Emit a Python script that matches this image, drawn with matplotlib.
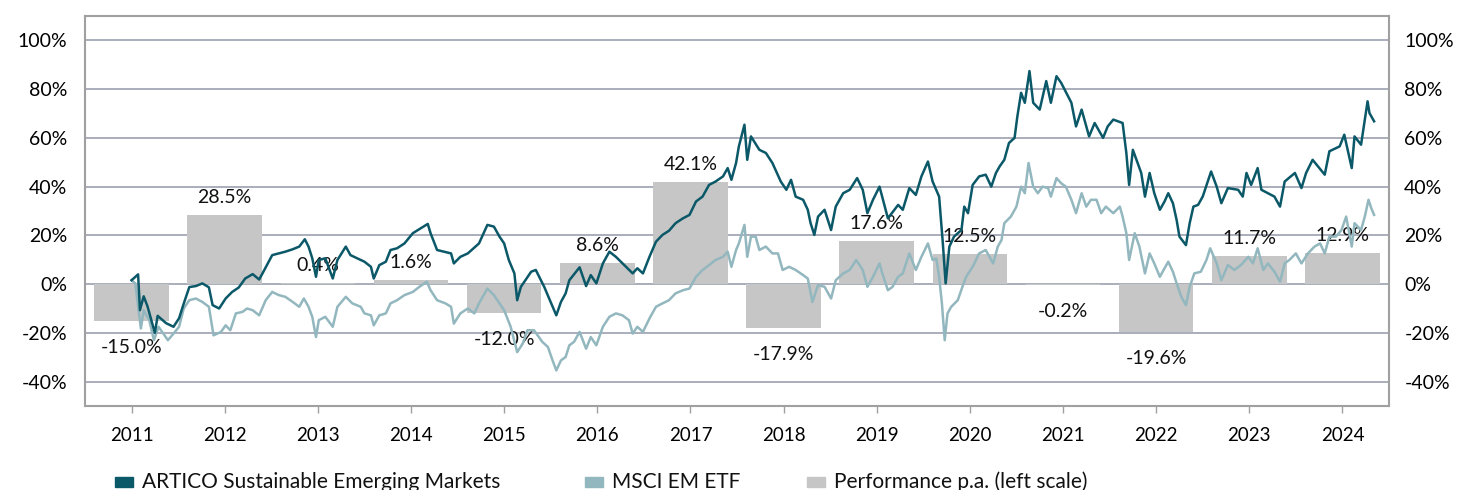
import matplotlib
matplotlib.use("Agg")
import matplotlib.pyplot as plt
from matplotlib.patches import Rectangle

plt.rcParams['font.family'] = ['Lato', 'DejaVu Sans']

years = ['2011', '2012', '2013', '2014', '2015', '2016', '2017',
         '2018', '2019', '2020', '2021', '2022', '2023', '2024']
perf = [-15.0, 28.5, 0.4, 1.6, -12.0, 8.6, 42.1, -17.9, 17.6, 12.5, -0.2, -19.6, 11.7, 12.9]

artico_t = [2011.00, 2011.07, 2011.09, 2011.13, 2011.17, 2011.25, 2011.28, 2011.37, 2011.45, 2011.51,
            2011.56, 2011.62, 2011.69, 2011.76, 2011.83, 2011.87, 2011.94, 2012.01, 2012.08, 2012.15,
            2012.22, 2012.30, 2012.37, 2012.40, 2012.51, 2012.58, 2012.65, 2012.73, 2012.80, 2012.86,
            2012.90, 2012.94, 2012.98, 2013.01, 2013.08, 2013.16, 2013.21, 2013.30, 2013.35, 2013.50,
            2013.57, 2013.60, 2013.66, 2013.73, 2013.78, 2013.85, 2013.93, 2014.02, 2014.18, 2014.21,
            2014.28, 2014.43, 2014.46, 2014.53, 2014.61, 2014.73, 2014.82, 2014.89, 2014.95, 2015.00,
            2015.05, 2015.11, 2015.14, 2015.18, 2015.29, 2015.34, 2015.39, 2015.43, 2015.56, 2015.61,
            2015.66, 2015.70, 2015.81, 2015.88, 2015.93, 2015.99, 2016.06, 2016.13, 2016.20, 2016.38,
            2016.43, 2016.49, 2016.56, 2016.63, 2016.70, 2016.77, 2016.84, 2016.92, 2016.99, 2017.06,
            2017.13, 2017.20, 2017.27, 2017.35, 2017.40, 2017.44, 2017.49, 2017.52, 2017.58, 2017.61,
            2017.65, 2017.74, 2017.81, 2017.88, 2017.97, 2018.03, 2018.08, 2018.13, 2018.21, 2018.26,
            2018.29, 2018.33, 2018.37, 2018.44, 2018.51, 2018.56, 2018.64, 2018.71, 2018.79, 2018.85,
            2018.90, 2018.96, 2019.03, 2019.12, 2019.23, 2019.28, 2019.35, 2019.42, 2019.48, 2019.55,
            2019.60, 2019.67, 2019.71, 2019.74, 2019.78, 2019.83, 2019.91, 2019.94, 2019.98, 2020.03,
            2020.10, 2020.17, 2020.23, 2020.28, 2020.32, 2020.37, 2020.42, 2020.48, 2020.51, 2020.55,
            2020.59, 2020.64, 2020.68, 2020.75, 2020.82, 2020.87, 2020.93, 2020.98, 2021.09, 2021.14,
            2021.20, 2021.25, 2021.28, 2021.34, 2021.43, 2021.48, 2021.54, 2021.64, 2021.68, 2021.71,
            2021.75, 2021.84, 2021.88, 2021.93, 2021.98, 2022.04, 2022.09, 2022.13, 2022.18, 2022.22,
            2022.25, 2022.32, 2022.36, 2022.40, 2022.45, 2022.50, 2022.56, 2022.59, 2022.65, 2022.70,
            2022.77, 2022.88, 2022.93, 2022.97, 2023.02, 2023.09, 2023.13, 2023.27, 2023.33, 2023.38,
            2023.49, 2023.56, 2023.61, 2023.68, 2023.81, 2023.86, 2023.97, 2024.02, 2024.10, 2024.13,
            2024.20, 2024.23, 2024.27, 2024.29, 2024.34]
artico_v = [1.6, 4.0, -10.7, -5.0, -9.0, -20.0, -13.0, -16.0, -17.5, -14.0,
            -8.0, -1.2, -0.8, 0.3, -1.3, -8.6, -10.0, -5.9, -3.2, -1.4,
            2.3, 4.1, 1.9, 4.0, 11.9, 12.6, 13.3, 14.3, 15.4, 18.4,
            15.4, 10.6, 3.0, 9.9, 10.6, 2.3, 9.9, 15.4, 11.9, 9.2,
            7.1, 2.3, 7.8, 9.2, 14.0, 14.7, 16.7, 20.9, 24.7, 20.9,
            14.0, 12.6, 8.5, 11.2, 12.6, 16.7, 24.3, 23.6, 19.5, 16.7,
            9.9, 4.4, -6.6, -1.1, 5.1, 5.8, 2.0, -1.1, -12.8, -7.3,
            -3.8, 1.6, 6.9, -0.8, 3.7, 0.3, 8.5, 13.3, 11.2, 4.4,
            6.5, 4.4, 11.2, 17.4, 20.2, 21.9, 25.0, 27.0, 28.4, 33.9,
            35.9, 40.7, 42.1, 44.2, 47.6, 42.8, 49.7, 56.5, 65.4, 51.0,
            60.6, 55.1, 53.8, 49.7, 42.1, 38.7, 42.8, 35.9, 34.6, 30.5,
            25.0, 20.2, 27.7, 30.5, 22.2, 31.8, 37.3, 38.7, 43.5, 38.7,
            29.1, 34.6, 40.0, 27.0, 32.5, 30.5, 39.4, 36.6, 44.2, 50.3,
            42.1, 35.9, 16.7, 0.3, 15.4, 19.5, 22.2, 31.8, 29.1, 40.7,
            44.2, 44.9, 40.0, 45.6, 48.3, 51.0, 57.9, 60.0, 68.8, 78.5,
            74.4, 87.4, 74.4, 71.6, 83.3, 74.4, 85.3, 82.6, 74.4, 64.7,
            71.6, 64.7, 60.6, 66.1, 60.0, 64.7, 67.5, 66.1, 53.8, 40.7,
            55.1, 45.6, 35.9, 45.6, 37.3, 30.5, 33.9, 37.3, 33.2, 26.3,
            19.5, 16.0, 25.0, 31.8, 32.5, 35.9, 42.8, 46.2, 40.0, 33.2,
            39.4, 38.7, 35.9, 45.6, 40.7, 47.6, 38.7, 35.9, 31.8, 42.1,
            45.6, 39.4, 45.6, 51.0, 44.9, 54.5, 56.5, 61.3, 47.6, 60.6,
            57.2, 64.7, 75.0, 70.2, 66.8]

msci_t = [2011.00, 2011.04, 2011.10, 2011.13, 2011.19, 2011.24, 2011.29, 2011.39, 2011.45, 2011.51,
          2011.56, 2011.62, 2011.69, 2011.76, 2011.83, 2011.88, 2011.96, 2012.01, 2012.06, 2012.12,
          2012.19, 2012.24, 2012.30, 2012.37, 2012.44, 2012.51, 2012.58, 2012.65, 2012.73, 2012.80,
          2012.85, 2012.90, 2012.94, 2012.98, 2013.01, 2013.08, 2013.16, 2013.21, 2013.30, 2013.37,
          2013.46, 2013.50, 2013.57, 2013.60, 2013.66, 2013.73, 2013.78, 2013.85, 2013.93, 2014.02,
          2014.09, 2014.17, 2014.21, 2014.28, 2014.37, 2014.43, 2014.46, 2014.53, 2014.61, 2014.68,
          2014.73, 2014.82, 2014.89, 2014.95, 2015.00, 2015.07, 2015.14, 2015.20, 2015.25, 2015.32,
          2015.41, 2015.47, 2015.52, 2015.56, 2015.61, 2015.66, 2015.70, 2015.75, 2015.81, 2015.88,
          2015.93, 2015.99, 2016.06, 2016.13, 2016.20, 2016.27, 2016.34, 2016.38, 2016.43, 2016.49,
          2016.56, 2016.63, 2016.70, 2016.77, 2016.84, 2016.92, 2016.99, 2017.06, 2017.13, 2017.20,
          2017.27, 2017.35, 2017.40, 2017.44, 2017.49, 2017.52, 2017.58, 2017.61, 2017.65, 2017.70,
          2017.74, 2017.81, 2017.88, 2017.94, 2017.99, 2018.06, 2018.13, 2018.21, 2018.26, 2018.31,
          2018.37, 2018.44, 2018.51, 2018.56, 2018.64, 2018.71, 2018.78, 2018.85, 2018.90, 2018.96,
          2019.03, 2019.06, 2019.12, 2019.17, 2019.23, 2019.28, 2019.35, 2019.42, 2019.48, 2019.55,
          2019.60, 2019.64, 2019.67, 2019.70, 2019.73, 2019.76, 2019.80, 2019.87, 2019.92, 2019.96,
          2020.03, 2020.10, 2020.17, 2020.25, 2020.30, 2020.34, 2020.37, 2020.44, 2020.50, 2020.55,
          2020.59, 2020.63, 2020.68, 2020.73, 2020.78, 2020.84, 2020.87, 2020.93, 2020.98, 2021.03,
          2021.09, 2021.14, 2021.20, 2021.25, 2021.30, 2021.36, 2021.41, 2021.46, 2021.54, 2021.61,
          2021.64, 2021.68, 2021.71, 2021.77, 2021.82, 2021.88, 2021.93, 2021.98, 2022.04, 2022.09,
          2022.13, 2022.18, 2022.22, 2022.27, 2022.32, 2022.36, 2022.41, 2022.48, 2022.54, 2022.58,
          2022.65, 2022.70, 2022.77, 2022.84, 2022.91, 2022.99, 2023.04, 2023.09, 2023.15, 2023.20,
          2023.27, 2023.33, 2023.38, 2023.43, 2023.50, 2023.56, 2023.63, 2023.70, 2023.76, 2023.81,
          2023.86, 2023.93, 2023.99, 2024.04, 2024.10, 2024.13, 2024.20, 2024.24, 2024.28, 2024.31,
          2024.34]
msci_v = [1.6, 0.3, -18.2, -10.7, -14.8, -23.0, -17.5, -23.0, -20.3, -17.5,
          -10.0, -6.6, -5.9, -7.3, -9.3, -21.0, -19.6, -16.9, -18.9, -12.0,
          -11.4, -10.0, -10.7, -12.8, -6.6, -3.2, -4.5, -5.2, -7.3, -9.3,
          -5.9, -9.3, -13.4, -21.7, -14.8, -13.4, -17.5, -9.3, -5.2, -7.9,
          -9.3, -12.0, -12.8, -16.9, -12.8, -12.0, -7.9, -6.6, -4.5, -3.2,
          -1.1, 1.0, -2.5, -6.6, -7.9, -9.3, -16.2, -12.0, -10.0, -12.0,
          -7.9, -1.8, -4.5, -7.9, -10.7, -17.5, -27.9, -24.4, -18.9, -18.9,
          -23.7, -25.8, -31.3, -35.4, -31.3, -29.9, -25.1, -23.7, -19.6, -26.5,
          -21.7, -25.1, -17.5, -13.4, -12.0, -12.8, -14.8, -20.3, -17.5, -19.6,
          -14.1, -9.3, -7.9, -6.6, -3.8, -2.5, -1.8, 3.0, 5.8, 7.8,
          9.9, 11.2, 13.3, 7.1, 14.0, 16.7, 24.3, 11.2, 19.5, 19.5,
          14.0, 15.4, 12.6, 12.6, 5.8, 7.1, 5.8, 3.7, 2.3, -7.3,
          -0.4, -1.1, -5.9, 1.6, 4.4, 5.8, 9.9, 5.8, -1.1, 3.0,
          8.5, 4.4, -2.5, -1.1, 3.0, 4.4, 12.6, 5.8, 11.2, 16.7,
          9.9, 10.5, 3.0, -7.9, -23.0, -12.0, -9.3, -6.6, -1.1, 3.0,
          7.1, 12.6, 14.0, 8.5, 15.4, 18.1, 25.0, 27.7, 31.8, 40.0,
          37.3, 49.7, 40.0, 37.3, 40.0, 39.4, 35.9, 43.5, 41.4, 40.0,
          34.6, 29.1, 37.3, 31.8, 34.6, 34.6, 29.1, 31.8, 29.1, 31.8,
          27.7, 20.9, 9.9, 20.9, 15.4, 4.4, 12.6, 8.5, 3.0, 6.5,
          9.2, 5.1, 0.3, -5.2, -8.6, -1.1, 4.4, 5.1, 9.9, 14.7,
          8.5, 1.6, 7.8, 5.8, 7.8, 11.2, 8.5, 14.7, 5.8, 8.5,
          5.1, 1.0, 8.5, 9.9, 12.6, 8.5, 12.6, 15.4, 16.7, 12.6,
          19.5, 19.5, 22.2, 27.7, 15.4, 25.0, 22.2, 27.7, 34.6, 31.1,
          28.4]

series_names = ['ARTICO Sustainable Emerging Markets', 'MSCI EM ETF', 'Performance p.a. (left scale)']

DARK = '#0b5868'
LIGHT = '#93b7be'
BAR = '#c6c6c6'
GRID = '#a4a8b6'
FRAME = '#a0a0a0'

fig = plt.figure(figsize=(14.6, 4.9), dpi=100)
ax = fig.add_axes([85 / 1460, 1 - 406 / 490, (1389 - 85) / 1460, (406 - 16) / 490])

pos = list(range(len(years)))
ax.bar(pos, perf, width=0.8, color=BAR, zorder=2)
for i, v in enumerate(perf):
    off = 12.5 if v >= 0 else -19
    ax.annotate(f'{v:.1f}%', (i, v), xytext=(0, off), textcoords='offset points',
                ha='center', va='center', fontsize=14, color='#111111', zorder=3)

ax.plot([t - 2011 for t in msci_t], msci_v, color=LIGHT, lw=1.8, zorder=4)
ax.plot([t - 2011 for t in artico_t], artico_v, color=DARK, lw=1.8, zorder=5)

ax.set_xlim(-0.5, 13.5)
ax.set_ylim(-50, 110)
yt = list(range(-40, 101, 20))
ax.set_yticks(yt)
ax.set_yticklabels([f'{v}%' for v in yt], fontsize=14)
ax.set_xticks(pos)
ax.set_xticklabels(years, fontsize=13.5)
ax.tick_params(axis='y', length=0, pad=13)
ax.tick_params(axis='x', length=5, width=1, color=FRAME, pad=10)
ax.grid(axis='y', color=GRID, lw=1.3, zorder=0)
ax.set_axisbelow(True)
for s in ax.spines.values():
    s.set_color(FRAME)
    s.set_linewidth(1.5)

ax2 = ax.twinx()
ax2.set_ylim(-50, 110)
ax2.set_yticks(yt)
ax2.set_yticklabels([f'{v}%' for v in yt], fontsize=14)
ax2.tick_params(axis='y', length=0, pad=11)
for s in ax2.spines.values():
    s.set_visible(False)

# legend (manually placed, cut at bottom like reference)
items = [(115, DARK), (585, LIGHT), (807, BAR)]
for (xp, col), name in zip(items, series_names):
    fig.patches.append(Rectangle((xp / 1460, 1 - 487 / 490), 18 / 1460, 10 / 490,
                                 transform=fig.transFigure, color=col, figure=fig))
    fig.text((xp + 27) / 1460, 1 - 482 / 490, name, fontsize=15, va='center', ha='left',
             color='#111111')

fig.savefig('out.png', dpi=100)
